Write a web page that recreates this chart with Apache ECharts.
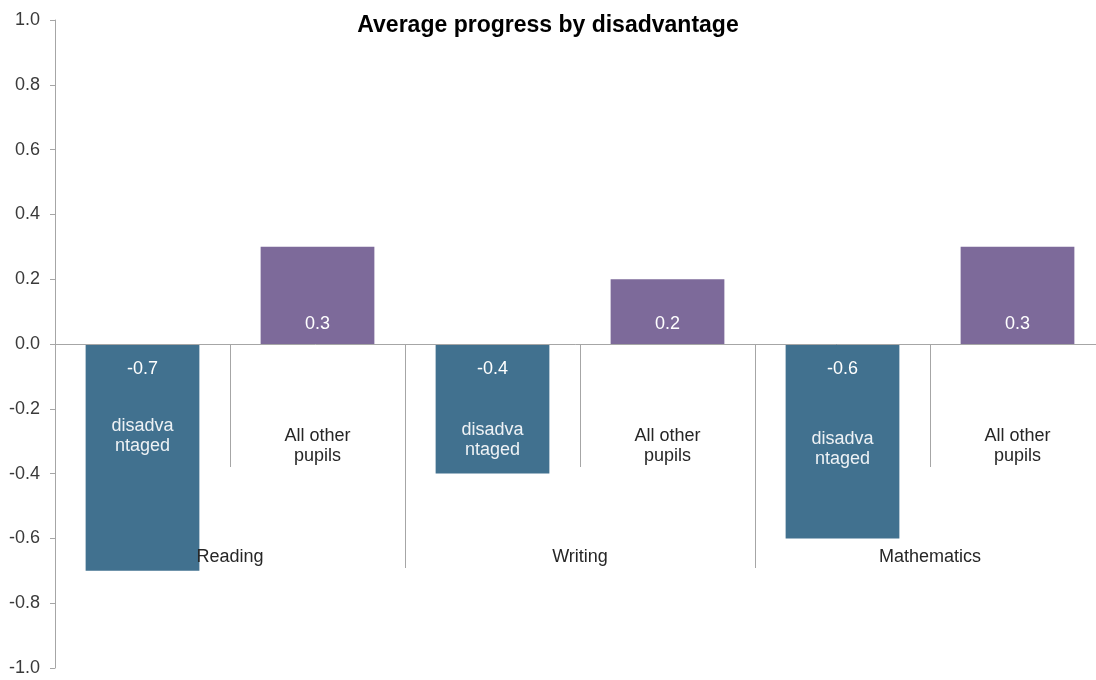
<!DOCTYPE html>
<html>
<head>
<meta charset="utf-8">
<script src="https://cdn.jsdelivr.net/npm/echarts@6/dist/echarts.min.js"></script>
<style>html,body{margin:0;padding:0;background:#fff}#chart{width:1096px;height:680px}</style>
</head>
<body>
<div id="chart"></div>
<script>
const title = 'Average progress by disadvantage';
const groups = ['Reading', 'Writing', 'Mathematics'];
const subCategories = ['disadvantaged', 'All other pupils', 'disadvantaged', 'All other pupils', 'disadvantaged', 'All other pupils'];
const subLabels = ['disadva\nntaged', 'All other\npupils', 'disadva\nntaged', 'All other\npupils', 'disadva\nntaged', 'All other\npupils'];
const values = [-0.7, 0.3, -0.4, 0.2, -0.6, 0.3];
const barColors = ['#41718F', '#7D6A9A'];
const yTicks = { min: -1, max: 1, interval: 0.2 };

const font = 'Liberation Sans, Arial, sans-serif';
// vertical shift (px) of each inner category label, as placed in the original
const labelShift = [0, 10, 4, 10, 13, 10];
const rich = {
  w: { color: '#EEF2F5', fontFamily: font, fontSize: 18, lineHeight: 20 },
  d: { color: '#262626', fontFamily: font, fontSize: 18, lineHeight: 20 }
};
labelShift.forEach(s => { if (s > 0) rich['p' + s] = { fontSize: 1, lineHeight: s }; });

const chart = echarts.init(document.getElementById('chart'), null, { renderer: 'canvas' });
chart.setOption({
  animation: false,
  backgroundColor: '#fff',
  title: {
    text: title, left: 'center', top: 9,
    textStyle: { fontFamily: font, fontSize: 23, fontWeight: 'bold', color: '#000' }
  },
  grid: { left: 55, top: 20, width: 1050, height: 648, containLabel: false, outerBoundsMode: 'none' },
  xAxis: [
    {
      type: 'category', data: subCategories, position: 'bottom', offset: -324, z: 10,
      axisLine: { onZero: false, lineStyle: { color: '#A6A6A6', width: 1 } },
      axisTick: { show: true, interval: 0, length: 123, lineStyle: { color: '#A6A6A6' } },
      axisLabel: {
        interval: 0, margin: 72, fontFamily: font, fontSize: 18, lineHeight: 20,
        formatter: (v, i) => {
          const key = i % 2 === 0 ? 'w' : 'd';
          const body = subLabels[i].split('\n').map(t => '{' + key + '|' + t + '}').join('\n');
          return (labelShift[i] > 0 ? '{p' + labelShift[i] + '| }\n' : '') + body;
        },
        rich: rich
      },
      splitLine: { show: false }
    },
    {
      type: 'category', data: groups, position: 'bottom', offset: -324, z: 10,
      axisLine: { show: false, onZero: false },
      axisTick: { show: true, interval: 0, length: 224, lineStyle: { color: '#A6A6A6' } },
      axisLabel: { interval: 0, margin: 203, fontFamily: font, fontSize: 18, lineHeight: 20, color: '#262626' },
      splitLine: { show: false }
    }
  ],
  yAxis: {
    type: 'value', min: yTicks.min, max: yTicks.max, interval: yTicks.interval,
    axisLine: { show: true, lineStyle: { color: '#A6A6A6' } },
    axisTick: { show: true, length: 5, lineStyle: { color: '#A6A6A6' } },
    axisLabel: { margin: 15, fontFamily: font, fontSize: 18, color: '#3A3A3A', formatter: v => v.toFixed(1) },
    splitLine: { show: false }
  },
  series: [{
    type: 'bar', xAxisIndex: 0, yAxisIndex: 0, barWidth: '65%',
    data: values.map((v, i) => ({
      value: v,
      itemStyle: { color: barColors[i % 2] },
      label: { position: v < 0 ? 'insideTop' : 'insideBottom', distance: v < 0 ? 16 : 11 }
    })),
    label: {
      show: true, color: '#fff', fontFamily: font, fontSize: 18,
      formatter: p => p.value.toFixed(1)
    }
  }]
});
</script>
</body>
</html>
